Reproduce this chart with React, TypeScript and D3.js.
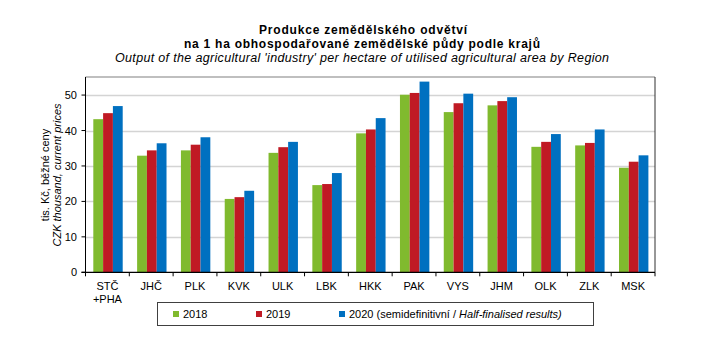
import React from "react";
import * as d3 from "d3";

const categories = ["STČ\n+PHA", "JHČ", "PLK", "KVK", "ULK", "LBK", "HKK", "PAK", "VYS", "JHM", "OLK", "ZLK", "MSK"];
const v2018 = [43.2, 32.9, 34.4, 20.7, 33.7, 24.6, 39.2, 50.1, 45.2, 47.1, 35.4, 35.8, 29.5];
const v2019 = [44.9, 34.4, 36.0, 21.2, 35.3, 24.9, 40.3, 50.6, 47.7, 48.3, 36.8, 36.5, 31.2];
const v2020 = [46.9, 36.4, 38.1, 23.0, 36.8, 28.0, 43.5, 53.8, 50.4, 49.4, 39.0, 40.3, 33.0];
const seriesNames = ["2018", "2019", "2020"];
const yTicks = [0, 10, 20, 30, 40, 50];

const colors = ["#80ba2e", "#c01a24", "#0070c0"];
const FONT = "Liberation Sans, Arial, sans-serif";

export default function App() {
  const W = 705, H = 357;
  const left = 85.5, right = 655, top = 77, bottom = 272.3;
  const x = d3.scaleBand<string>().domain(categories).range([left, right]).paddingInner(0).paddingOuter(0);
  const y = d3.scaleLinear().domain([0, 55.1]).range([bottom, top]);
  const series = [v2018, v2019, v2020];
  const bw = x.bandwidth();
  const barW = 9.8;
  const groupW = barW * 3;

  return (
    <svg width={W} height={H} style={{ position: "absolute", left: 0, top: 0, background: "#fff" }} fontFamily={FONT}>
      <rect x={0} y={0} width={W} height={H} fill="#fff" />
      {/* title */}
      <text x={363} y={34} textAnchor="middle" fontSize={12} fontWeight="bold" textLength={208} lengthAdjust="spacing">Produkce zemědělského odvětví</text>
      <text x={362} y={48} textAnchor="middle" fontSize={12} fontWeight="bold" textLength={356} lengthAdjust="spacing">na 1 ha obhospodařované zemědělské půdy podle krajů</text>
      <text x={362} y={62} textAnchor="middle" fontSize={12.5} fontStyle="italic" textLength={494} lengthAdjust="spacing">Output of the agricultural 'industry' per hectare of utilised agricultural area by Region</text>

      {/* gridlines */}
      {yTicks.filter(t => t > 0).map(t => (
        <line key={t} x1={left} x2={right} y1={Math.round(y(t)) + 0.5} y2={Math.round(y(t)) + 0.5} stroke="#d4d4d4" strokeWidth={1.5} />
      ))}
      {/* frame top & right */}
      <line x1={left} x2={right} y1={top} y2={top} stroke="#808080" strokeWidth={1.2} />
      <line x1={right} x2={right} y1={top} y2={bottom} stroke="#303030" strokeWidth={1} />

      {/* bars */}
      {categories.map((c, i) => (
        <g key={c}>
          {series.map((s, k) => {
            const x0 = (x(c) as number) + (bw - groupW) / 2 + 0.6 + k * barW;
            return <rect key={k} x={x0} y={y(s[i])} width={barW} height={bottom - y(s[i])} fill={colors[k]} />;
          })}
        </g>
      ))}

      {/* axes */}
      <line x1={left} x2={left} y1={top} y2={bottom} stroke="#000" strokeWidth={1} />
      <line x1={left - 4} x2={right} y1={bottom} y2={bottom} stroke="#000" strokeWidth={1.2} />
      {yTicks.map(t => (
        <g key={t}>
          <line x1={left - 4} x2={left} y1={y(t)} y2={y(t)} stroke="#000" />
          <text x={77} y={y(t) + 4} textAnchor="end" fontSize={11}>{t}</text>
        </g>
      ))}
      {categories.map((c, i) => (
        <line key={"t" + i} x1={(x(c) as number)} x2={(x(c) as number)} y1={bottom} y2={bottom + 4} stroke="#000" />
      ))}
      <line x1={right} x2={right} y1={bottom} y2={bottom + 4} stroke="#000" />
      {categories.map(c => {
        const lines = c.split("\n");
        const cx = (x(c) as number) + bw / 2;
        return (
          <text key={"l" + c} x={cx} y={290} textAnchor="middle" fontSize={11}>
            {lines.map((l, j) => <tspan key={j} x={cx} dy={j === 0 ? 0 : 13}>{l}</tspan>)}
          </text>
        );
      })}

      {/* y title */}
      <text transform="translate(49,175) rotate(-90)" textAnchor="middle" fontSize={11}>tis. Kč, běžné ceny</text>
      <text transform="translate(61,175) rotate(-90)" textAnchor="middle" fontSize={11} fontStyle="italic">CZK thousand, current prices</text>

      {/* legend */}
      <rect x={157.5} y={302.5} width={436} height={23} fill="none" stroke="#404040" strokeWidth={1} />
      {seriesNames.map((n, k) => {
        const lx = [173, 256, 339][k];
        return (
          <g key={n}>
            <rect x={lx} y={311} width={6} height={6} fill={colors[k]} />
            <text x={lx + 10} y={318} fontSize={11}>
              {n}
              {k === 2 ? <tspan> (semidefinitivní / <tspan fontStyle="italic">Half-finalised results)</tspan></tspan> : null}
            </text>
          </g>
        );
      })}
    </svg>
  );
}
